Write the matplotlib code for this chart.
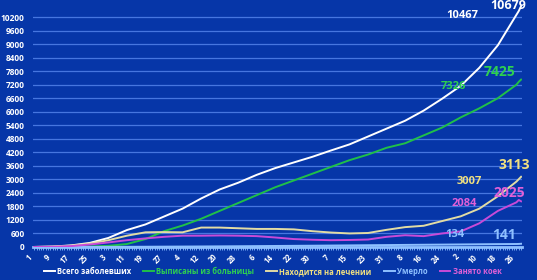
"""Hospital occupancy chart: cases, discharged, in treatment, deaths, beds."""

import matplotlib.pyplot as plt
from matplotlib.ticker import MultipleLocator

# day offsets from 1 April (sampled every 8 days, plus the last two days)
days = [0, 8, 16, 24, 32, 40, 48, 56, 64, 72, 80, 88, 96, 104, 112, 120,
        128, 136, 144, 152, 160, 168, 176, 184, 192, 200, 208, 209, 210]

total_cases = [0, 20, 70, 180, 400, 750, 1000, 1350, 1700, 2150, 2550, 2850,
               3200, 3500, 3750, 4000, 4280, 4550, 4900, 5250, 5600, 6050,
               6580, 7150, 7950, 8950, 10300, 10467, 10679]
discharged = [0, 0, 5, 20, 50, 130, 350, 700, 950, 1250, 1600, 1950, 2300,
              2650, 2950, 3250, 3550, 3850, 4100, 4400, 4600, 4950, 5300,
              5750, 6150, 6600, 7200, 7326, 7425]
in_treatment = [0, 15, 60, 150, 300, 500, 650, 660, 650, 860, 860, 830, 800,
                800, 780, 700, 640, 600, 620, 760, 880, 940, 1150, 1360, 1700,
                2250, 2900, 3007, 3113]
deaths = [0, 0, 1, 2, 4, 7, 10, 14, 18, 22, 27, 32, 38, 44, 50, 56, 63, 70,
          77, 84, 91, 98, 105, 112, 119, 126, 131, 134, 141]
beds_taken = [0, 10, 40, 110, 200, 300, 380, 450, 500, 500, 510, 500, 480,
              420, 350, 320, 300, 310, 330, 450, 520, 480, 600, 690, 1050,
              1600, 1980, 2084, 2025]

tick_days = [0, 8, 16, 24, 32, 40, 48, 56, 64, 72, 80, 88, 96, 104, 112, 120,
             128, 136, 144, 152, 160, 168, 176, 184, 192, 200, 208]
tick_labels = ["1", "9", "17", "25", "3", "11", "19", "27", "4", "12", "20",
               "28", "6", "14", "22", "30", "7", "15", "23", "31", "8", "16",
               "24", "2", "10", "18", "26"]

BG = "#0636a8"
GRID = "#4676e0"
AXIS = "#8ec0ff"

plt.rcParams["font.family"] = ["Open Sans", "DejaVu Sans"]
plt.rcParams["font.weight"] = "bold"

fig = plt.figure(figsize=(5.37, 2.8), dpi=100, facecolor=BG)
ax = fig.add_axes([0.0615, 0.118, 0.911, 0.8695], facecolor=BG)

series = [
    (total_cases, "#ffffff", "#ffffff", "Всего заболевших"),
    (discharged, "#20c048", "#2ed050", "Выписаны из больницы"),
    (in_treatment, "#e2dca4", "#f0e080", "Находится на лечении"),
    (deaths, "#8ec0ff", "#8ec0ff", "Умерло"),
    (beds_taken, "#c84ad8", "#e060d8", "Занято коек"),
]
for values, color, _, label in series:
    ax.plot(days, values, color=color, lw=1.4, label=label, zorder=3)

ax.set_xlim(-0.5, 210.5)
ax.set_ylim(0, 10800)
ax.set_yticks(range(0, 10800, 600))
ax.grid(axis="y", color=GRID, lw=0.9)
ax.set_axisbelow(True)

ax.set_xticks(tick_days)
ax.set_xticklabels(tick_labels, rotation=45, ha="right", va="top")
ax.xaxis.set_minor_locator(MultipleLocator(1))
ax.tick_params(axis="x", which="both", colors=AXIS, length=2.5, width=0.6,
               labelcolor="white", labelsize=5.5, pad=1.5)
ax.tick_params(axis="y", length=0, labelcolor="white", labelsize=6, pad=6)

for side in ["top", "right", "left"]:
    ax.spines[side].set_visible(False)
ax.spines["bottom"].set_color(AXIS)
ax.spines["bottom"].set_linewidth(2)

# value labels for the last two days
value_labels = [
    ("10467", 184.8, 10258, "#ffffff", 8),
    ("10679", 204.5, 10720, "#ffffff", 9),
    ("7326", 181, 7110, "#2ed050", 8),
    ("7425", 200.7, 7775, "#2ed050", 10),
    ("3007", 187.8, 2896, "#f0e080", 8),
    ("3113", 207.2, 3650, "#f0e080", 10),
    ("2084", 185.6, 1920, "#e060d8", 8),
    ("2025", 205, 2408, "#e060d8", 10),
    ("134", 181.3, 545, "#8ec0ff", 8),
    ("141", 202.8, 545, "#8ec0ff", 10),
]
for text, x, y, color, size in value_labels:
    ax.text(x, y, text, color=color, fontsize=size, fontweight="bold",
            ha="center", va="center", clip_on=False, zorder=4)

leg = ax.legend(loc="center", bbox_to_anchor=(0.49, -0.1), ncol=5,
                frameon=False, fontsize=5.5, handlelength=1.4,
                handletextpad=0.3, columnspacing=1.6, borderpad=0.1)
for text, (_, _, tcolor, _) in zip(leg.get_texts(), series):
    text.set_color(tcolor)
    text.set_fontweight("bold")

fig.savefig("out.png", dpi=100, facecolor=BG)
